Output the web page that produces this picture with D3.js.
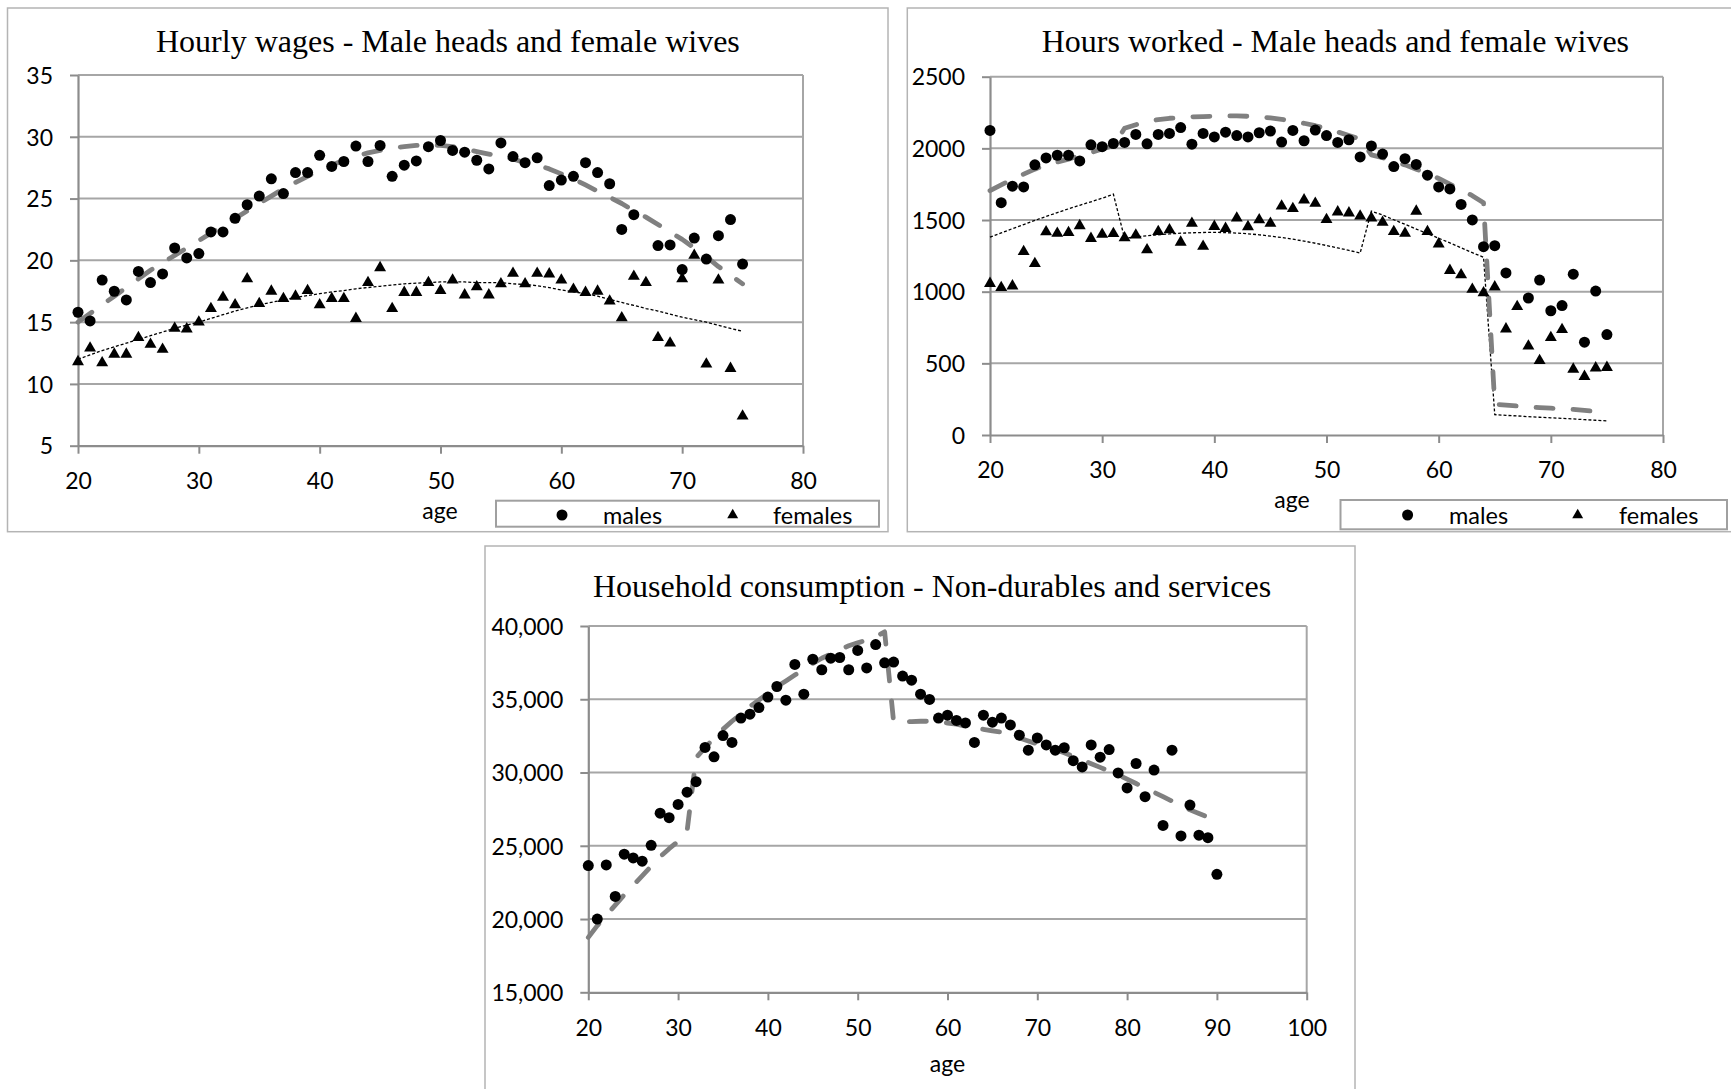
<!DOCTYPE html>
<html><head><meta charset="utf-8">
<script src="https://cdn.jsdelivr.net/npm/d3@7"></script>
<style>
html,body{margin:0;padding:0;background:#fff;}
svg{display:block;}
</style></head><body>
<svg id="chart" width="1731" height="1089"></svg>
<script>
// ---------- DATA ----------
const agesWork = [20,21,22,23,24,25,26,27,28,29,
  30,31,32,33,34,35,36,37,38,39,
  40,41,42,43,44,45,46,47,48,49,
  50,51,52,53,54,55,56,57,58,59,
  60,61,62,63,64,65,66,67,68,69,
  70,71,72,73,74,75];

const wageMales = [15.8,15.1,18.4,17.5,16.8,19.1,18.2,18.9,21.0,20.2,
  20.55,22.3,22.3,23.4,24.5,25.2,26.6,25.4,27.1,27.1,
  28.5,27.6,28.0,29.25,28.0,29.3,26.8,27.7,28.05,29.2,
  29.7,28.9,28.75,28.1,27.4,29.5,28.4,27.9,28.3,26.05,
  26.5,26.8,27.9,27.1,26.2,22.5,23.7,null,21.2,21.25,
  19.25,21.8,20.1,22.0,23.3,19.7];
const wageMalesFit = [15.0,15.7,16.4,17.1,17.8,18.5,19.2,19.8,20.4,21.0,
  21.6,22.2,22.8,23.4,24.0,24.6,25.2,25.8,26.3,26.8,
  27.3,27.7,28.1,28.4,28.7,28.9,29.1,29.2,29.3,29.35,
  29.3,29.2,29.0,28.8,28.6,28.4,28.2,27.9,27.7,27.4,
  27.0,26.6,26.1,25.6,25.1,24.6,24.0,23.5,22.9,22.3,
  21.7,21.0,20.3,19.5,18.8,18.1];
const wageFemales = [11.8,12.9,11.7,12.4,12.4,13.75,13.2,12.8,14.5,14.45,
  15.0,16.1,17.0,16.4,18.5,16.5,17.5,16.9,17.1,17.55,
  16.4,16.9,16.9,15.3,18.2,19.4,16.1,17.4,17.4,18.2,
  17.55,18.4,17.2,17.85,17.2,18.1,18.95,18.1,18.95,18.9,
  18.4,17.65,17.4,17.5,16.7,15.35,18.7,18.2,13.75,13.3,
  18.5,20.4,11.6,18.4,11.25,7.4];
const wageFemalesFit = [12.0,12.35,12.7,13.0,13.3,13.6,13.9,14.2,14.5,14.75,
  15.0,15.3,15.6,15.9,16.15,16.4,16.6,16.8,17.0,17.15,
  17.3,17.45,17.55,17.7,17.8,17.9,18.0,18.1,18.15,18.2,
  18.25,18.25,18.25,18.2,18.2,18.2,18.1,18.05,17.95,17.8,
  17.6,17.45,17.3,17.1,16.85,16.6,16.35,16.1,15.9,15.65,
  15.4,15.2,15.0,14.75,14.5,14.25];

const hoursMales = [2125,1621,1736,1731,1885,1933,1952,1952,1912,2025,
  2012,2034,2041,2097,2032,2097,2104,2145,2029,2104,
  2080,2113,2089,2080,2109,2121,2044,2125,2053,2128,
  2089,2041,2060,1940,2017,1960,1873,1928,1888,1813,
  1731,1717,1609,1501,1314,1321,1131,null,956,1081,
  867,903,1122,648,1004,701];
const hoursMalesFit = [1705,1745,1785,1820,1855,1885,1905,1925,1950,1970,
  1995,2020,2140,2165,2190,2200,2210,2215,2220,2222,
  2225,2226,2226,2224,2220,2212,2202,2190,2175,2158,
  2138,2115,2090,2065,1955,1935,1910,1885,1855,1825,
  1790,1750,1710,1670,1620,215,208,202,196,191,
  187,183,179,172,164,157];
const hoursFemales = [1057,1028,1040,1280,1196,1417,1407,1412,1460,1371,
  1400,1405,1376,1395,1292,1419,1431,1345,1477,1316,
  1455,1441,1513,1453,1501,1477,1597,1580,1640,1616,
  1503,1556,1549,1527,1513,1484,1419,1407,1561,1419,
  1333,1148,1117,1016,992,1033,740,896,620,519,
  680,735,459,408,468,471];
const hoursFemalesFit = [1380,1410,1440,1468,1497,1525,1552,1578,1603,1627,
  1652,1680,1372,1382,1390,1397,1403,1408,1411,1413,
  1414,1412,1409,1404,1397,1388,1378,1366,1353,1338,
  1322,1305,1288,1270,1562,1535,1502,1470,1437,1405,
  1373,1340,1306,1272,1240,142,137,133,128,124,
  120,116,112,107,103,98];

const agesCons = [20,21,22,23,24,25,26,27,28,29,
  30,31,32,33,34,35,36,37,38,39,
  40,41,42,43,44,45,46,47,48,49,
  50,51,52,53,54,55,56,57,58,59,
  60,61,62,63,64,65,66,67,68,69,
  70,71,72,73,74,75,76,77,78,79,
  80,81,82,83,84,85,86,87,88,89,
  90];
const consumption = [23650,20000,23690,21540,24430,24170,23950,25030,27225,26915,
  27820,28660,29375,31715,31070,32525,32050,33720,33985,34435,
  35150,35870,34940,37375,35345,37730,37015,37800,37850,37015,
  38330,37135,38735,37490,37540,36585,36300,35345,34985,33720,
  33910,33555,33385,32050,33910,33435,33720,33245,32550,31525,
  32360,31880,31525,31690,30810,30380,31880,31045,31570,29970,
  28945,30615,28350,30165,26390,31525,25675,27775,25720,25555,
  23050];
const consumptionFit = [18750,19550,20250,20950,21650,22300,22950,23600,24250,24800,
  25300,26000,31000,31700,32350,32950,33500,34000,34500,34950,
  35400,35850,36250,36650,37050,37450,37800,38100,38400,38650,
  38850,39050,39250,39600,33450,33450,33480,33500,33500,33450,
  33380,33300,33150,33050,32950,32850,32750,32550,32350,32150,
  31950,31750,31550,31350,31100,30850,30600,30350,30100,29850,
  29550,29250,28950,28650,28350,28050,27750,27450,27200,26950,
  null];

const xTicksWork = [20,30,40,50,60,70,80];
const yTicksWage = [5,10,15,20,25,30,35];
const yTicksHours = [0,500,1000,1500,2000,2500];
const xTicksCons = [20,30,40,50,60,70,80,90,100];
const yTicksCons = [15000,20000,25000,30000,35000,40000];

const titles = ["Hourly wages - Male heads and female wives",
                "Hours worked - Male heads and female wives",
                "Household consumption - Non-durables and services"];
const legendLabels = ["males","females"];
const axisTitle = "age";

// ---------- DRAWING ----------
const svg = d3.select("#chart");
const SANS = "Lato, 'Open Sans', sans-serif";
const SERIF = "'Liberation Serif', 'Times New Roman', serif";
const GRID = "#a6a6a6", AXIS = "#8c8c8c";

function drawPanel(c) {
  const g = svg.append("g");
  g.append("rect").attr("x", c.panel[0]).attr("y", c.panel[1])
    .attr("width", c.panel[2]).attr("height", c.panel[3])
    .attr("fill", "#fff").attr("stroke", "#b4b4b4").attr("stroke-width", 1.5);

  const x = d3.scaleLinear().domain(c.xDomain).range([c.plot[0], c.plot[2]]);
  const y = d3.scaleLinear().domain(c.yDomain).range([c.plot[3], c.plot[1]]);

  g.append("g").selectAll("line").data(c.yTicks.slice(1)).join("line")
    .attr("x1", c.plot[0]).attr("x2", c.plot[2])
    .attr("y1", d => y(d)).attr("y2", d => y(d))
    .attr("stroke", GRID).attr("stroke-width", 2);
  g.append("line").attr("x1", c.plot[2]).attr("x2", c.plot[2])
    .attr("y1", c.plot[1]).attr("y2", c.plot[3])
    .attr("stroke", GRID).attr("stroke-width", 2);

  const ya = g.append("g").attr("transform", `translate(${c.plot[0]},0)`)
    .call(d3.axisLeft(y).tickValues(c.yTicks).tickSize(8).tickSizeOuter(0)
      .tickFormat(c.yFormat || (d => d)));
  ya.select(".domain").attr("stroke", AXIS).attr("stroke-width", 2.2);
  ya.selectAll(".tick line").attr("stroke", AXIS).attr("stroke-width", 2);
  ya.selectAll(".tick text").attr("x", -25).attr("dy", "0.36em")
    .attr("fill", "#000").style("font-family", SANS).style("font-size", "23px");

  const xa = g.append("g").attr("transform", `translate(0,${c.plot[3]})`)
    .call(d3.axisBottom(x).tickValues(c.xTicks).tickSize(8).tickSizeOuter(0));
  xa.select(".domain").attr("stroke", AXIS).attr("stroke-width", 2.2);
  xa.selectAll(".tick line").attr("stroke", AXIS).attr("stroke-width", 2);
  xa.selectAll(".tick text").attr("y", 35).attr("dy", "0.36em")
    .attr("fill", "#000").style("font-family", SANS).style("font-size", "23px");

  const line = d3.line().defined(d => d[1] != null).x(d => x(d[0])).y(d => y(d[1]));
  if (c.femaleFit) {
    g.append("path").datum(c.ages.map((a, i) => [a, c.femaleFit[i]]))
      .attr("d", line).attr("fill", "none").attr("stroke", "#000")
      .attr("stroke-width", 1.3).attr("stroke-dasharray", "3,2");
  }
  g.append("path").datum(c.ages.map((a, i) => [a, c.maleFit[i]]))
    .attr("d", line).attr("fill", "none").attr("stroke", "#808080")
    .attr("stroke-width", 4.8).attr("stroke-dasharray", "17,20")
    .attr("stroke-linecap", "round").attr("stroke-linejoin", "round");

  if (c.female) {
    g.append("g").selectAll("path")
      .data(c.ages.map((a, i) => [a, c.female[i]]).filter(d => d[1] != null))
      .join("path")
      .attr("d", d3.symbol(d3.symbolTriangle, 62))
      .attr("transform", d => `translate(${x(d[0])},${y(d[1])})`)
      .attr("fill", "#000");
  }
  g.append("g").selectAll("circle")
    .data(c.ages.map((a, i) => [a, c.male[i]]).filter(d => d[1] != null))
    .join("circle")
    .attr("cx", d => x(d[0])).attr("cy", d => y(d[1])).attr("r", 5.5)
    .attr("fill", "#000");

  g.append("text").attr("x", c.titlePos[0]).attr("y", c.titlePos[1])
    .text(c.title).style("font-family", SERIF).style("font-size", "32px").attr("fill", "#000");
  g.append("text").attr("x", c.agePos[0]).attr("y", c.agePos[1]).attr("text-anchor", "middle")
    .text(axisTitle).style("font-family", SANS).style("font-size", "23px").attr("fill", "#000");

  if (c.legend) {
    const L = c.legend;
    g.append("rect").attr("x", L.box[0]).attr("y", L.box[1]).attr("width", L.box[2]).attr("height", L.box[3])
      .attr("fill", "#fff").attr("stroke", "#a0a0a0").attr("stroke-width", 2);
    g.append("circle").attr("cx", L.circleX).attr("cy", L.markY).attr("r", 5.5).attr("fill", "#000");
    g.append("path").attr("d", d3.symbol(d3.symbolTriangle, 52))
      .attr("transform", `translate(${L.triX},${L.markY})`).attr("fill", "#000");
    g.append("text").attr("x", L.malesX).attr("y", L.textY).text(legendLabels[0])
      .style("font-family", SANS).style("font-size", "23.5px").attr("fill", "#000");
    g.append("text").attr("x", L.femalesX).attr("y", L.textY).text(legendLabels[1])
      .style("font-family", SANS).style("font-size", "23.5px").attr("fill", "#000");
  }
}

drawPanel({
  panel: [7.5, 8, 880.5, 523.7],
  plot: [78, 75, 803, 445.7],
  xDomain: [20, 80], yDomain: [5, 35],
  xTicks: xTicksWork, yTicks: yTicksWage,
  ages: agesWork, male: wageMales, maleFit: wageMalesFit, female: wageFemales, femaleFit: wageFemalesFit,
  title: titles[0], titlePos: [156, 51.7], agePos: [440, 518.5],
  legend: {box: [496, 500.7, 383, 26], circleX: 562, triX: 732.7, malesX: 603, femalesX: 773, textY: 524, markY: 515}
});

drawPanel({
  panel: [907.3, 8, 835, 523.7],
  plot: [990, 76.7, 1663, 435],
  xDomain: [20, 80], yDomain: [0, 2500],
  xTicks: xTicksWork, yTicks: yTicksHours,
  ages: agesWork, male: hoursMales, maleFit: hoursMalesFit, female: hoursFemales, femaleFit: hoursFemalesFit,
  title: titles[1], titlePos: [1041.7, 51.7], agePos: [1292, 508],
  legend: {box: [1340.5, 500, 386.5, 29.3], circleX: 1407.6, triX: 1577.7, malesX: 1449, femalesX: 1619, textY: 524, markY: 515}
});

drawPanel({
  panel: [485, 546, 870, 560],
  plot: [588.3, 626, 1306.7, 992.3],
  xDomain: [20, 100], yDomain: [15000, 40000],
  xTicks: xTicksCons, yTicks: yTicksCons, yFormat: d3.format(","),
  ages: agesCons, male: consumption, maleFit: consumptionFit,
  title: titles[2], titlePos: [593, 596.7], agePos: [947.5, 1072]
});
</script>
</body></html>
